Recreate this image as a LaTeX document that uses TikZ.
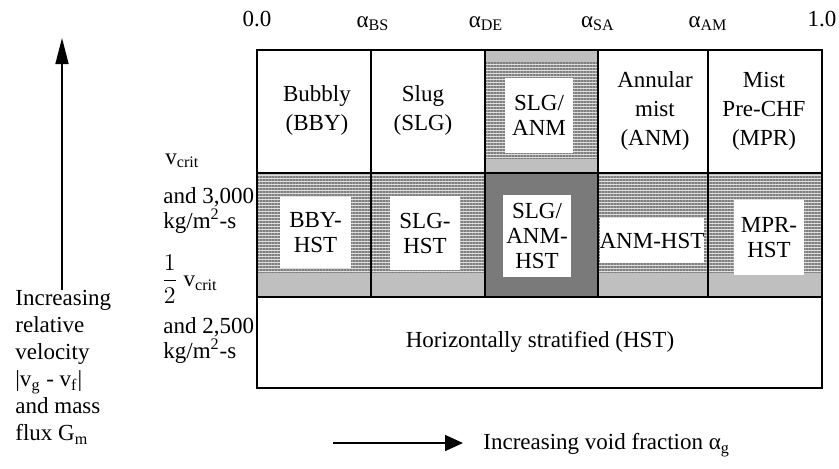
\documentclass[tikz,border=0pt]{standalone}
\usepackage{fontspec}
\setmainfont{Liberation Serif}
\usetikzlibrary{arrows.meta,patterns.meta}

\begin{document}
\begin{tikzpicture}[x=0.5pt, y=-0.5pt,
    txt/.style={inner sep=0pt, align=center, font=\fontsize{11.5}{14.5}\selectfont},
    side/.style={inner sep=0pt, align=left, font=\fontsize{11.5}{12.5}\selectfont},
    whitebox/.style={fill=white, inner sep=0pt, align=center, font=\fontsize{11.5}{12.5}\selectfont},
    hatch/.style={pattern={Lines[distance=1.5pt, line width=0.8pt]}, pattern color=black!50},
    grid line/.style={line width=0.8pt}]
    \useasboundingbox (0,0) rectangle (839,468);
    % shading
    \fill[gray!50] (257,173) rectangle (822,297);
    \fill[gray!25] (257,175) rectangle (822,272);
    \fill[hatch] (257,175) rectangle (822,272);
    \fill[gray!50] (485,50) rectangle (598,173);
    \fill[gray!25] (485,62) rectangle (598,158);
    \fill[hatch] (485,62) rectangle (598,158);
    \fill[black!52] (485,173) rectangle (598,297);
    % grid
    \draw[grid line] (257,50) rectangle (822,388);
    \draw[grid line] (257,173) -- (822,173) (257,297) -- (822,297);
    \foreach \x in {371,485,598,708}
        \draw[grid line] (\x,50) -- (\x,297);
    % void fraction limits
    \node[txt, anchor=base] (a0) at (257,26) {0.0};
    \node[txt, anchor=base] (abs) at (373,27) {α\textsubscript{BS}};
    \node[txt, anchor=base] (ade) at (486,27) {α\textsubscript{DE}};
    \node[txt, anchor=base] (asa) at (598,27) {α\textsubscript{SA}};
    \node[txt, anchor=base] (aam) at (708,27) {α\textsubscript{AM}};
    \node[txt, anchor=base] (a1) at (822,26) {1.0};
    % top row
    \node[txt] (bby) at (317,110) {Bubbly\\(BBY)};
    \node[txt] (slg) at (423,110) {Slug\\(SLG)};
    \node[whitebox, minimum width=34pt, minimum height=37.5pt] (slganm) at (539,115.5) {SLG/\\ANM};
    \node[txt] (anm) at (655,111) {Annular\\mist\\(ANM)};
    \node[txt] (mpr) at (764,111) {Mist\\Pre-CHF\\(MPR)};
    % middle row
    \node[whitebox, minimum width=35.5pt, minimum height=35.5pt] (bbyhst) at (315.5,232.5) {BBY-\\HST};
    \node[whitebox, minimum width=35pt, minimum height=37pt] (slghst) at (425,233) {SLG-\\HST};
    \node[whitebox, minimum width=34pt, minimum height=41pt] (slganmhst) at (537,236) {SLG/\\ANM-\\HST};
    \node[whitebox, minimum width=51.5pt, minimum height=22.5pt] (anmhst) at (652,240.5) {ANM-HST};
    \node[whitebox, minimum width=35pt, minimum height=37.5pt] (mprhst) at (769,237.5) {MPR-\\HST};
    % bottom row
    \node[txt] (hst) at (540,342) {Horizontally stratified (HST)};
    % velocity limits
    \node[side, anchor=base west] (vc) at (165,164) {v\textsubscript{crit}};
    \node[side, anchor=west] (g3000) at (163,210) {and 3,000\\kg/m\textsuperscript{2}-s};
    \node[side, anchor=west] (vhalf) at (161,279) {$\displaystyle\frac{1}{2}$ v\textsubscript{crit}};
    \node[side, anchor=west] (g2500) at (163,340) {and 2,500\\kg/m\textsuperscript{2}-s};
    % axes
    \node[inner sep=0pt, align=left, font=\fontsize{11.5}{13.5}\selectfont, anchor=north west] (relvel) at (15,290)
        {Increasing\\relative\\velocity\\|v\textsubscript{g} - v\textsubscript{f}|\\and mass\\flux G\textsubscript{m}};
    \coordinate (vtop) at (62,38);
    \draw[line width=0.8pt, -{Triangle[length=13pt, width=6.5pt]}] (relvel.north -| vtop) -- (vtop);
    \node[txt, anchor=west] (void) at (483,445) {Increasing void fraction α\textsubscript{g}};
    \coordinate (vstart) at (333,443);
    \draw[line width=0.8pt, -{Triangle[length=9pt, width=8pt]}] (vstart) -- ([xshift=-10pt]vstart -| void.west);
\end{tikzpicture}
\end{document}
